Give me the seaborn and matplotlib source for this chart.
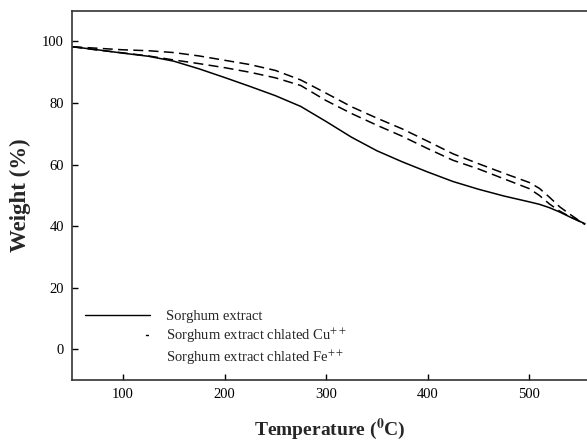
import numpy as np
import pandas as pd
import matplotlib
matplotlib.use("Agg")
import matplotlib.pyplot as plt
from matplotlib.lines import Line2D
import seaborn as sns

# TGA curves
temperature = [50, 75, 100, 125, 150, 175, 200, 225, 250, 275, 300, 325, 350,
               375, 400, 425, 450, 475, 500, 510, 520, 530, 540, 555]
w_extract = [98.3, 97.3, 96.2, 95.2, 93.6, 91.1, 88.3, 85.4, 82.4, 78.9, 74.0, 68.9, 64.5,
             60.9, 57.6, 54.5, 52.0, 49.8, 47.9, 47.1, 46.0, 44.6, 43.0, 40.8]
w_cu = [98.3, 97.8, 97.3, 97.0, 96.4, 95.3, 93.9, 92.5, 90.6, 87.5, 83.2, 78.8, 75.1,
        71.6, 67.6, 63.5, 60.3, 57.2, 54.2, 52.3, 49.4, 46.3, 43.9, 40.5]
w_fe = [98.3, 97.2, 96.3, 95.3, 94.0, 92.8, 91.5, 90.0, 88.2, 85.7, 80.8, 76.6, 72.8,
        69.2, 65.2, 61.4, 58.6, 55.4, 52.2, 50.0, 47.2, 44.9, 43.1, 40.7]

labels = ["Sorghum extract",
          "Sorghum extract chlated Cu$^{++}$",
          "Sorghum extract chlated Fe$^{++}$"]

df = pd.concat([
    pd.DataFrame({"T": temperature, "W": w_extract, "sample": labels[0]}),
    pd.DataFrame({"T": temperature, "W": w_cu, "sample": labels[1]}),
    pd.DataFrame({"T": temperature, "W": w_fe, "sample": labels[2]}),
])

sns.set_theme(style="ticks")
plt.rcParams['font.family'] = ['Liberation Serif', 'DejaVu Serif']
plt.rcParams['mathtext.fontset'] = 'stix'

fig = plt.figure(figsize=(5.87, 4.43), dpi=100)
ax = fig.add_axes([0.1232, 0.1422, 0.8768, 0.8336])

sns.lineplot(data=df, x="T", y="W", style="sample", color="black", linewidth=1.1,
             dashes={labels[0]: "", labels[1]: (6.5, 3.5), labels[2]: (6.5, 3.5)},
             legend=False, ax=ax, sort=False)

ax.set_xlim(50, 557)
ax.set_ylim(-10, 110)
ax.set_xticks([100, 200, 300, 400, 500])
ax.set_yticks([0, 20, 40, 60, 80, 100])
ax.tick_params(direction="in", length=4, width=1, labelsize=10.5, colors="black", pad=6)
for s in ["left", "bottom", "top"]:
    ax.spines[s].set_linewidth(1.2)
    ax.spines[s].set_color("#333333")
ax.spines["right"].set_visible(False)

ax.set_xlabel(r"Temperature ($^{\mathbf{0}}$C)", fontsize=14, fontweight="bold", labelpad=11)
ax.set_ylabel("Weight (%)", fontsize=16.5, fontweight="bold", labelpad=8)

# legend as in the original: the dashed handles barely show
handles = [
    Line2D([], [], color="black", linewidth=1.0),
    Line2D([], [], color="black", linewidth=1.0, linestyle=(158.7, (2.2, 200.0))),
    Line2D([], [], color="black", linewidth=1.0, linestyle="none"),
]
ax.legend(handles, labels, loc="lower left", bbox_to_anchor=(0.0, 0.0), frameon=False,
          fontsize=10.5, handlelength=4.4, handletextpad=1.1, labelspacing=0.25)

fig.savefig("out.png", dpi=100)
